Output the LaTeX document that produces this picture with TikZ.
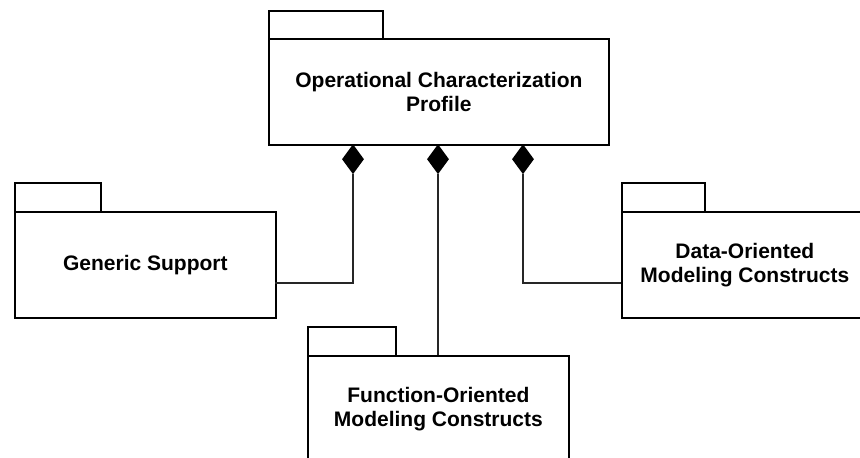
\documentclass[tikz,border=0pt]{standalone}
\usepackage{fontspec}
\setmainfont{Liberation Sans}
\usetikzlibrary{shapes.geometric}
\begin{document}
\begin{tikzpicture}[x=1pt,y=-1pt,
  pkgbody/.style={draw=black, line width=1.8pt, fill=white, anchor=north west, inner sep=0pt,
    align=center, font=\fontsize{21}{23.5}\selectfont\bfseries},
  pkgtab/.style={draw=black, line width=1.8pt, fill=white, anchor=north west, inner sep=0pt},
  compo/.style={shape=diamond, fill=black, draw=none, inner sep=0pt,
    minimum width=22pt, minimum height=30pt, anchor=north},
  link/.style={draw=black!85, line width=1.3pt}]
\useasboundingbox (0,0) rectangle (860,458);
\clip (0,0) rectangle (860,458);
\fill[white] (0,0) rectangle (860,458);

% top-level profile package
\node[pkgtab, minimum width=114pt, minimum height=28pt] (optab) at (268,10) {};
\node[pkgbody, minimum width=340pt, minimum height=106pt] (op) at (268,38)
  {Operational Characterization\\Profile};

% sub-packages
\node[pkgtab, minimum width=86pt, minimum height=29pt] (gentab) at (14,182) {};
\node[pkgbody, minimum width=261pt, minimum height=106pt] (gen) at (14,211) {Generic Support};

\node[pkgtab, minimum width=83pt, minimum height=29pt] (datatab) at (621,182) {};
\node[pkgbody, minimum width=246pt, minimum height=106pt] (data) at (621,211)
  {Data-Oriented\\Modeling Constructs};

\node[pkgtab, minimum width=88pt, minimum height=29pt] (fntab) at (307,326) {};
\node[pkgbody, minimum width=261pt, minimum height=106pt] (fn) at (307,355)
  {Function-Oriented\\Modeling Constructs};

% composition diamonds on the profile's lower edge
\node[compo] (d1) at (353,144) {};
\node[compo] (d2) at (438,144) {};
\node[compo] (d3) at (523,144) {};

% attachment points on the sub-packages
\coordinate (genport) at (275,283);
\coordinate (dataport) at (621,283);

% composition links
\draw[link] (d1.south) |- (genport);
\draw[link] (d3.south) |- (dataport);
\draw[link] (d2.south) -- (d2.south |- fn.north);
\end{tikzpicture}
\end{document}
